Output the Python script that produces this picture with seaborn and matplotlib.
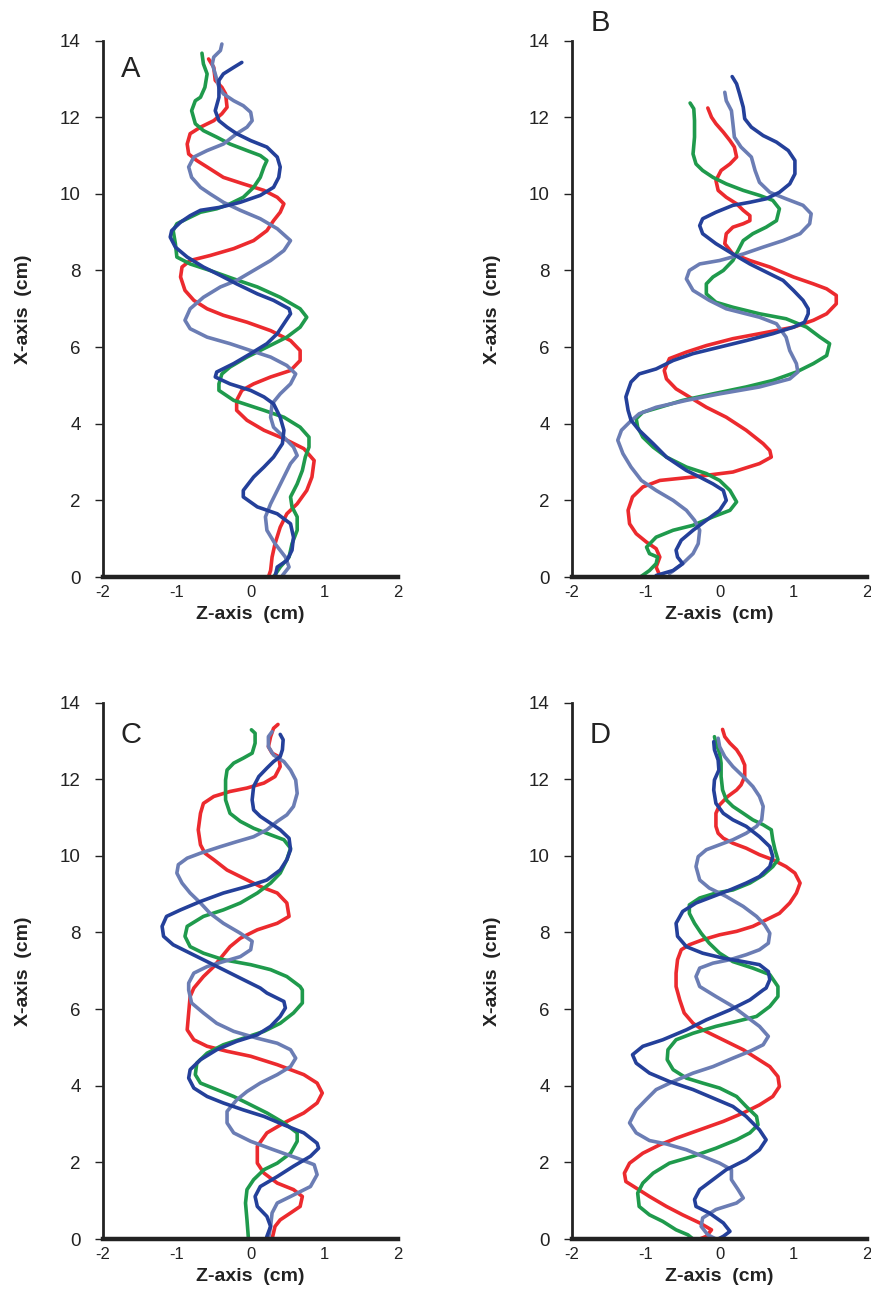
import matplotlib
matplotlib.use("Agg")
import matplotlib.pyplot as plt
import seaborn as sns
import pandas as pd

# ---- data: (Z, X) points along each track ----
# panel A
a_red_z = [-0.57, -0.50, -0.48, -0.39, -0.34, -0.32, -0.39, -0.50, -0.68, -0.82, -0.86, -0.84, -0.73, -0.59, -0.37, -0.10, 0.18, 0.36, 0.45, 0.40, 0.31, 0.22, 0.04, -0.23, -0.55, -0.82, -0.93, -0.95, -0.89, -0.77, -0.59, -0.37, -0.05, 0.27, 0.54, 0.67, 0.67, 0.54, 0.27, 0.04, -0.12, -0.19, -0.19, -0.05, 0.18, 0.45, 0.72, 0.86, 0.83, 0.76, 0.63, 0.49, 0.40, 0.33, 0.29, 0.27, 0.24]
a_red_x = [13.52, 13.30, 12.96, 12.78, 12.61, 12.26, 12.09, 11.91, 11.74, 11.57, 11.30, 11.04, 10.87, 10.70, 10.43, 10.26, 10.09, 9.91, 9.74, 9.52, 9.30, 9.04, 8.78, 8.57, 8.39, 8.26, 8.09, 7.83, 7.48, 7.22, 7.0, 6.83, 6.65, 6.43, 6.17, 5.91, 5.65, 5.39, 5.22, 5.04, 4.87, 4.61, 4.35, 4.09, 3.83, 3.61, 3.35, 3.04, 2.61, 2.26, 1.91, 1.65, 1.30, 0.87, 0.52, 0.17, 0.0]
a_green_z = [-0.66, -0.64, -0.59, -0.62, -0.68, -0.75, -0.80, -0.75, -0.64, -0.46, -0.28, -0.05, 0.13, 0.22, 0.18, 0.13, 0.04, -0.10, -0.28, -0.46, -0.68, -0.82, -1.0, -1.05, -1.02, -1.0, -0.82, -0.55, -0.23, 0.09, 0.40, 0.67, 0.76, 0.67, 0.49, 0.22, -0.05, -0.28, -0.39, -0.43, -0.43, -0.23, 0.18, 0.45, 0.67, 0.79, 0.79, 0.74, 0.70, 0.63, 0.54, 0.56, 0.63, 0.63, 0.56, 0.52, 0.40, 0.31]
a_green_x = [13.67, 13.39, 13.13, 12.78, 12.52, 12.43, 12.17, 11.83, 11.65, 11.48, 11.30, 11.13, 11.0, 10.87, 10.70, 10.43, 10.17, 9.91, 9.74, 9.61, 9.52, 9.39, 9.22, 9.04, 8.70, 8.35, 8.17, 8.0, 7.78, 7.57, 7.30, 7.0, 6.78, 6.52, 6.26, 6.0, 5.74, 5.48, 5.30, 5.04, 4.87, 4.61, 4.35, 4.17, 3.91, 3.65, 3.39, 3.13, 2.78, 2.43, 2.09, 1.83, 1.57, 1.22, 0.87, 0.52, 0.26, 0.0]
a_slate_z = [-0.39, -0.41, -0.50, -0.52, -0.48, -0.43, -0.37, -0.23, -0.10, 0.0, 0.02, -0.05, -0.19, -0.37, -0.59, -0.77, -0.84, -0.80, -0.68, -0.55, -0.37, -0.14, 0.13, 0.36, 0.54, 0.45, 0.27, 0.04, -0.19, -0.41, -0.64, -0.82, -0.89, -0.82, -0.59, -0.28, 0.0, 0.27, 0.49, 0.61, 0.54, 0.40, 0.29, 0.27, 0.31, 0.45, 0.58, 0.63, 0.54, 0.45, 0.36, 0.27, 0.20, 0.22, 0.33, 0.47, 0.52, 0.43]
a_slate_x = [13.91, 13.74, 13.57, 13.39, 13.13, 12.78, 12.61, 12.43, 12.30, 12.13, 11.91, 11.74, 11.57, 11.30, 11.13, 10.96, 10.70, 10.43, 10.17, 10.0, 9.78, 9.57, 9.35, 9.09, 8.78, 8.52, 8.26, 8.0, 7.74, 7.57, 7.30, 7.0, 6.70, 6.48, 6.26, 6.09, 5.91, 5.74, 5.52, 5.30, 5.04, 4.78, 4.52, 4.17, 3.91, 3.65, 3.39, 3.17, 2.96, 2.61, 2.26, 1.91, 1.57, 1.22, 0.87, 0.52, 0.26, 0.04]
a_blue_z = [-0.12, -0.23, -0.37, -0.43, -0.43, -0.48, -0.43, -0.32, -0.19, 0.0, 0.22, 0.36, 0.40, 0.38, 0.31, 0.13, -0.14, -0.41, -0.68, -0.82, -0.95, -1.07, -1.09, -1.02, -0.86, -0.64, -0.41, -0.19, 0.09, 0.31, 0.52, 0.54, 0.45, 0.36, 0.22, 0.0, -0.23, -0.46, -0.48, -0.28, 0.0, 0.18, 0.31, 0.40, 0.45, 0.43, 0.31, 0.18, 0.04, -0.10, -0.10, 0.09, 0.36, 0.54, 0.58, 0.56, 0.49, 0.36, 0.33]
a_blue_x = [13.43, 13.30, 13.13, 12.96, 12.52, 12.17, 11.91, 11.74, 11.57, 11.39, 11.22, 10.96, 10.70, 10.43, 10.17, 9.96, 9.78, 9.65, 9.57, 9.43, 9.26, 9.04, 8.87, 8.61, 8.35, 8.09, 7.87, 7.65, 7.39, 7.22, 7.0, 6.87, 6.61, 6.35, 6.09, 5.83, 5.57, 5.35, 5.22, 5.04, 4.87, 4.70, 4.52, 4.17, 3.83, 3.48, 3.13, 2.87, 2.61, 2.26, 2.09, 1.83, 1.65, 1.39, 1.04, 0.70, 0.43, 0.26, 0.0]

# panel B
b_red_z = [-0.16, -0.11, -0.05, 0.05, 0.14, 0.20, 0.23, 0.14, 0.02, -0.05, -0.02, 0.09, 0.23, 0.32, 0.41, 0.41, 0.32, 0.18, 0.09, 0.07, 0.18, 0.41, 0.68, 1.0, 1.27, 1.45, 1.58, 1.58, 1.45, 1.27, 1.0, 0.54, 0.18, -0.18, -0.45, -0.68, -0.75, -0.72, -0.59, -0.41, -0.18, 0.09, 0.36, 0.59, 0.68, 0.70, 0.54, 0.18, -0.36, -0.81, -1.04, -1.18, -1.24, -1.22, -1.13, -0.99, -0.86, -0.81, -0.86, -0.81]
b_red_x = [12.24, 12.0, 11.83, 11.61, 11.39, 11.22, 10.96, 10.78, 10.61, 10.35, 10.09, 9.91, 9.74, 9.57, 9.43, 9.30, 9.22, 9.13, 8.96, 8.70, 8.43, 8.26, 8.09, 7.83, 7.65, 7.52, 7.35, 7.13, 6.87, 6.70, 6.52, 6.35, 6.22, 6.04, 5.87, 5.70, 5.39, 5.17, 4.91, 4.70, 4.43, 4.17, 3.83, 3.48, 3.30, 3.13, 2.96, 2.74, 2.61, 2.52, 2.35, 2.09, 1.74, 1.39, 1.13, 0.91, 0.74, 0.52, 0.26, 0.04]
b_green_z = [-0.40, -0.35, -0.34, -0.34, -0.36, -0.32, -0.23, -0.09, 0.09, 0.32, 0.54, 0.72, 0.81, 0.77, 0.63, 0.45, 0.32, 0.25, 0.18, 0.05, -0.09, -0.18, -0.18, -0.05, 0.18, 0.54, 0.90, 1.18, 1.36, 1.49, 1.45, 1.27, 1.04, 0.72, 0.36, -0.09, -0.50, -0.81, -1.04, -1.13, -1.11, -1.04, -0.90, -0.72, -0.45, -0.18, 0.0, 0.14, 0.23, 0.14, -0.09, -0.36, -0.63, -0.86, -0.99, -0.95, -0.84, -0.86, -0.95, -1.06]
b_green_x = [12.37, 12.22, 11.91, 11.48, 11.04, 10.78, 10.61, 10.43, 10.26, 10.09, 9.96, 9.83, 9.61, 9.30, 9.13, 8.96, 8.78, 8.52, 8.26, 8.0, 7.83, 7.65, 7.39, 7.17, 7.04, 6.87, 6.74, 6.52, 6.26, 6.09, 5.78, 5.57, 5.35, 5.13, 4.96, 4.78, 4.61, 4.43, 4.30, 4.13, 3.91, 3.65, 3.39, 3.13, 2.87, 2.70, 2.52, 2.26, 1.96, 1.74, 1.57, 1.35, 1.22, 1.04, 0.78, 0.61, 0.52, 0.35, 0.17, 0.02]
b_slate_z = [0.07, 0.09, 0.16, 0.18, 0.20, 0.29, 0.43, 0.48, 0.54, 0.68, 0.90, 1.13, 1.24, 1.22, 1.09, 0.86, 0.59, 0.32, 0.0, -0.27, -0.41, -0.45, -0.36, -0.14, 0.09, 0.54, 0.77, 0.90, 0.95, 1.04, 1.06, 0.95, 0.54, 0.0, -0.45, -0.86, -1.09, -1.22, -1.33, -1.38, -1.31, -1.20, -1.06, -0.86, -0.63, -0.45, -0.34, -0.27, -0.29, -0.36, -0.50, -0.68]
b_slate_x = [12.65, 12.43, 12.17, 11.83, 11.48, 11.22, 10.96, 10.61, 10.30, 10.04, 9.87, 9.70, 9.48, 9.22, 8.96, 8.78, 8.61, 8.43, 8.26, 8.17, 8.0, 7.78, 7.48, 7.22, 7.0, 6.78, 6.61, 6.26, 5.91, 5.57, 5.35, 5.17, 4.96, 4.78, 4.61, 4.43, 4.26, 4.04, 3.83, 3.57, 3.22, 2.87, 2.52, 2.26, 2.0, 1.74, 1.48, 1.22, 0.87, 0.61, 0.35, 0.09]
b_blue_z = [0.17, 0.23, 0.27, 0.32, 0.34, 0.43, 0.59, 0.77, 0.93, 1.02, 1.02, 0.95, 0.81, 0.63, 0.41, 0.18, -0.05, -0.23, -0.27, -0.23, -0.05, 0.18, 0.41, 0.63, 0.86, 1.0, 1.13, 1.20, 1.20, 1.15, 1.0, 0.72, 0.36, 0.0, -0.36, -0.63, -0.86, -1.09, -1.20, -1.24, -1.27, -1.24, -1.20, -1.09, -0.90, -0.72, -0.45, -0.27, -0.09, 0.05, 0.09, 0.0, -0.18, -0.36, -0.52, -0.59, -0.57, -0.50, -0.63, -0.86]
b_blue_x = [13.06, 12.87, 12.61, 12.26, 11.96, 11.74, 11.52, 11.35, 11.13, 10.87, 10.52, 10.26, 10.04, 9.87, 9.78, 9.70, 9.52, 9.35, 9.17, 8.96, 8.70, 8.43, 8.17, 7.96, 7.74, 7.48, 7.22, 7.0, 6.87, 6.65, 6.52, 6.35, 6.17, 6.0, 5.83, 5.65, 5.43, 5.30, 5.09, 4.87, 4.70, 4.35, 4.09, 3.83, 3.48, 3.13, 2.78, 2.61, 2.43, 2.26, 2.0, 1.74, 1.48, 1.22, 0.96, 0.70, 0.52, 0.35, 0.17, 0.04]

# panel C
c_red_z = [0.37, 0.31, 0.27, 0.24, 0.29, 0.38, 0.40, 0.33, 0.18, -0.05, -0.28, -0.50, -0.64, -0.68, -0.71, -0.68, -0.62, -0.50, -0.32, -0.10, 0.13, 0.36, 0.49, 0.52, 0.36, 0.09, -0.14, -0.28, -0.37, -0.50, -0.64, -0.77, -0.82, -0.84, -0.86, -0.77, -0.59, -0.32, 0.0, 0.36, 0.72, 0.90, 0.97, 0.90, 0.72, 0.45, 0.22, 0.09, 0.09, 0.18, 0.36, 0.58, 0.70, 0.67, 0.54, 0.40, 0.33, 0.29]
c_red_x = [13.43, 13.33, 13.11, 12.85, 12.68, 12.59, 12.33, 12.07, 11.90, 11.77, 11.68, 11.55, 11.37, 11.11, 10.68, 10.29, 10.07, 9.90, 9.63, 9.42, 9.20, 9.03, 8.77, 8.42, 8.24, 8.07, 7.85, 7.63, 7.42, 7.11, 6.85, 6.55, 6.33, 5.90, 5.46, 5.20, 5.03, 4.90, 4.77, 4.55, 4.29, 4.07, 3.81, 3.55, 3.29, 3.03, 2.77, 2.42, 1.98, 1.72, 1.46, 1.29, 1.11, 0.85, 0.68, 0.50, 0.33, 0.0]
c_green_z = [0.01, 0.06, 0.06, 0.02, -0.10, -0.23, -0.32, -0.34, -0.34, -0.28, -0.14, 0.04, 0.27, 0.45, 0.54, 0.49, 0.40, 0.27, 0.09, -0.14, -0.37, -0.64, -0.86, -0.89, -0.82, -0.64, -0.37, 0.0, 0.27, 0.49, 0.67, 0.70, 0.70, 0.58, 0.40, 0.18, -0.10, -0.37, -0.59, -0.73, -0.75, -0.68, -0.46, -0.23, -0.05, 0.22, 0.45, 0.63, 0.63, 0.54, 0.36, 0.18, 0.04, -0.05, -0.07, -0.05, -0.03]
c_green_x = [13.29, 13.2, 12.94, 12.68, 12.55, 12.42, 12.24, 11.98, 11.46, 11.11, 10.90, 10.72, 10.55, 10.42, 10.20, 9.90, 9.55, 9.29, 9.03, 8.77, 8.59, 8.42, 8.16, 7.90, 7.63, 7.46, 7.29, 7.16, 7.03, 6.85, 6.59, 6.50, 6.16, 5.90, 5.63, 5.42, 5.24, 5.07, 4.85, 4.59, 4.29, 4.07, 3.90, 3.72, 3.55, 3.29, 3.03, 2.77, 2.55, 2.24, 1.98, 1.81, 1.55, 1.29, 0.94, 0.50, 0.0]
c_slate_z = [0.29, 0.24, 0.24, 0.31, 0.45, 0.54, 0.61, 0.63, 0.58, 0.49, 0.36, 0.22, 0.04, -0.19, -0.41, -0.68, -0.86, -0.98, -1.0, -0.93, -0.82, -0.68, -0.55, -0.37, -0.14, 0.02, 0.0, -0.14, -0.37, -0.59, -0.77, -0.84, -0.84, -0.80, -0.64, -0.46, -0.23, 0.09, 0.36, 0.54, 0.61, 0.54, 0.36, 0.13, -0.05, -0.19, -0.32, -0.32, -0.23, 0.0, 0.31, 0.63, 0.86, 0.90, 0.81, 0.54, 0.36, 0.29, 0.27, 0.24]
c_slate_x = [13.24, 13.11, 12.85, 12.63, 12.46, 12.24, 11.98, 11.63, 11.29, 11.07, 10.90, 10.68, 10.50, 10.37, 10.24, 10.07, 9.94, 9.77, 9.55, 9.29, 9.03, 8.77, 8.50, 8.24, 7.98, 7.77, 7.55, 7.37, 7.24, 7.11, 6.94, 6.68, 6.50, 6.16, 5.90, 5.63, 5.42, 5.24, 5.11, 4.94, 4.72, 4.50, 4.29, 4.07, 3.85, 3.63, 3.33, 3.03, 2.77, 2.55, 2.33, 2.11, 1.94, 1.68, 1.37, 1.11, 0.94, 0.68, 0.33, 0.0]
c_blue_z = [0.40, 0.44, 0.43, 0.40, 0.31, 0.22, 0.11, 0.04, 0.02, 0.04, 0.13, 0.27, 0.40, 0.52, 0.54, 0.49, 0.40, 0.22, -0.05, -0.37, -0.68, -0.95, -1.14, -1.20, -1.18, -1.05, -0.82, -0.59, -0.37, -0.10, 0.13, 0.22, 0.45, 0.47, 0.40, 0.27, 0.09, -0.19, -0.46, -0.68, -0.82, -0.84, -0.77, -0.59, -0.37, -0.10, 0.18, 0.45, 0.72, 0.90, 0.92, 0.81, 0.58, 0.36, 0.13, 0.06, 0.09, 0.22, 0.27, 0.22, 0.21]
c_blue_x = [13.17, 13.03, 12.77, 12.59, 12.46, 12.29, 12.07, 11.81, 11.46, 11.20, 11.03, 10.85, 10.68, 10.46, 10.16, 9.90, 9.63, 9.37, 9.20, 9.03, 8.81, 8.59, 8.42, 8.16, 7.90, 7.68, 7.46, 7.24, 7.03, 6.77, 6.55, 6.42, 6.20, 6.03, 5.81, 5.55, 5.33, 5.16, 4.94, 4.68, 4.42, 4.20, 3.94, 3.72, 3.55, 3.37, 3.20, 2.98, 2.77, 2.50, 2.37, 2.16, 1.90, 1.63, 1.37, 1.11, 0.85, 0.59, 0.33, 0.07, 0.0]

# panel D
d_red_z = [0.04, 0.07, 0.14, 0.23, 0.29, 0.34, 0.34, 0.29, 0.23, 0.11, 0.0, -0.05, -0.05, -0.02, 0.05, 0.18, 0.36, 0.54, 0.72, 0.90, 1.02, 1.09, 1.04, 0.95, 0.81, 0.63, 0.45, 0.23, 0.0, -0.23, -0.41, -0.52, -0.57, -0.59, -0.59, -0.54, -0.48, -0.36, -0.23, -0.05, 0.14, 0.32, 0.50, 0.68, 0.79, 0.81, 0.72, 0.54, 0.32, 0.05, -0.27, -0.59, -0.81, -1.04, -1.22, -1.29, -1.27, -1.13, -0.95, -0.72, -0.50, -0.27, -0.11, -0.18, -0.27]
d_red_x = [13.30, 13.11, 12.94, 12.77, 12.59, 12.37, 12.07, 11.85, 11.72, 11.55, 11.33, 11.11, 10.77, 10.59, 10.46, 10.33, 10.20, 10.03, 9.90, 9.72, 9.55, 9.29, 9.03, 8.77, 8.50, 8.33, 8.16, 8.03, 7.94, 7.81, 7.68, 7.55, 7.29, 6.94, 6.59, 6.24, 5.90, 5.63, 5.46, 5.29, 5.11, 4.94, 4.72, 4.50, 4.24, 3.98, 3.72, 3.50, 3.29, 3.07, 2.85, 2.63, 2.46, 2.24, 1.98, 1.72, 1.50, 1.33, 1.11, 0.85, 0.63, 0.42, 0.24, 0.07, 0.0]
d_green_z = [-0.07, -0.05, 0.0, 0.02, 0.02, 0.04, 0.09, 0.18, 0.32, 0.45, 0.59, 0.70, 0.72, 0.75, 0.79, 0.72, 0.59, 0.41, 0.18, -0.05, -0.27, -0.41, -0.41, -0.34, -0.25, -0.14, 0.0, 0.18, 0.45, 0.68, 0.79, 0.79, 0.68, 0.50, 0.23, -0.05, -0.36, -0.59, -0.70, -0.71, -0.63, -0.45, -0.23, 0.0, 0.23, 0.36, 0.50, 0.52, 0.41, 0.23, -0.05, -0.36, -0.68, -0.90, -1.04, -1.11, -1.09, -0.95, -0.77, -0.59, -0.43, -0.36]
d_green_x = [13.11, 12.94, 12.68, 12.42, 12.07, 11.72, 11.46, 11.29, 11.11, 10.94, 10.81, 10.68, 10.42, 10.16, 9.90, 9.72, 9.50, 9.29, 9.11, 9.03, 8.90, 8.72, 8.50, 8.24, 7.98, 7.72, 7.46, 7.24, 7.07, 6.90, 6.59, 6.33, 6.07, 5.81, 5.68, 5.55, 5.37, 5.20, 4.94, 4.68, 4.42, 4.20, 4.07, 3.94, 3.72, 3.46, 3.20, 2.98, 2.77, 2.59, 2.37, 2.16, 1.98, 1.72, 1.46, 1.20, 0.85, 0.63, 0.46, 0.24, 0.11, 0.0]
d_slate_z = [-0.02, 0.0, 0.07, 0.18, 0.32, 0.45, 0.54, 0.59, 0.57, 0.50, 0.36, 0.18, 0.0, -0.18, -0.29, -0.32, -0.27, -0.14, 0.09, 0.32, 0.50, 0.61, 0.68, 0.66, 0.54, 0.36, 0.14, -0.09, -0.27, -0.32, -0.27, -0.05, 0.18, 0.36, 0.54, 0.66, 0.59, 0.41, 0.18, -0.09, -0.36, -0.63, -0.86, -1.0, -1.13, -1.22, -1.13, -0.95, -0.72, -0.45, -0.23, 0.0, 0.16, 0.16, 0.25, 0.32, 0.23, -0.05, -0.23, -0.25, -0.16, -0.05]
d_slate_x = [13.07, 12.85, 12.59, 12.33, 12.07, 11.81, 11.55, 11.29, 10.94, 10.77, 10.59, 10.42, 10.29, 10.16, 9.98, 9.72, 9.37, 9.16, 8.94, 8.68, 8.42, 8.20, 7.98, 7.72, 7.55, 7.42, 7.29, 7.20, 7.07, 6.85, 6.59, 6.33, 6.07, 5.81, 5.55, 5.29, 5.07, 4.90, 4.72, 4.50, 4.33, 4.11, 3.90, 3.63, 3.37, 3.03, 2.77, 2.57, 2.48, 2.33, 2.16, 1.98, 1.81, 1.55, 1.29, 1.07, 0.94, 0.77, 0.55, 0.33, 0.11, 0.0]
d_blue_z = [-0.08, -0.07, -0.02, -0.01, -0.07, -0.08, -0.05, 0.05, 0.18, 0.36, 0.54, 0.68, 0.72, 0.68, 0.54, 0.36, 0.14, -0.09, -0.32, -0.50, -0.59, -0.57, -0.45, -0.23, 0.05, 0.32, 0.54, 0.66, 0.68, 0.63, 0.59, 0.41, 0.14, -0.18, -0.45, -0.77, -1.04, -1.18, -1.13, -0.95, -0.68, -0.36, -0.09, 0.18, 0.36, 0.54, 0.63, 0.54, 0.36, 0.09, -0.09, -0.27, -0.34, -0.32, -0.14, 0.05, 0.14, 0.05, -0.02]
d_blue_x = [12.98, 12.77, 12.50, 12.24, 11.98, 11.72, 11.37, 11.11, 10.94, 10.77, 10.50, 10.24, 9.98, 9.72, 9.46, 9.29, 9.11, 8.94, 8.77, 8.55, 8.24, 7.90, 7.63, 7.46, 7.33, 7.24, 7.16, 6.98, 6.77, 6.55, 6.50, 6.24, 5.98, 5.72, 5.46, 5.20, 5.03, 4.81, 4.59, 4.33, 4.11, 3.90, 3.68, 3.46, 3.20, 2.85, 2.59, 2.33, 2.07, 1.81, 1.55, 1.29, 1.03, 0.85, 0.68, 0.42, 0.20, 0.07, 0.0]

panels = {
    "A": {"red": (a_red_z, a_red_x), "green": (a_green_z, a_green_x),
          "slate": (a_slate_z, a_slate_x), "blue": (a_blue_z, a_blue_x)},
    "B": {"red": (b_red_z, b_red_x), "green": (b_green_z, b_green_x),
          "slate": (b_slate_z, b_slate_x), "blue": (b_blue_z, b_blue_x)},
    "C": {"red": (c_red_z, c_red_x), "green": (c_green_z, c_green_x),
          "slate": (c_slate_z, c_slate_x), "blue": (c_blue_z, c_blue_x)},
    "D": {"red": (d_red_z, d_red_x), "green": (d_green_z, d_green_x),
          "slate": (d_slate_z, d_slate_x), "blue": (d_blue_z, d_blue_x)},
}

colores = {"red": "#ec2a2e", "green": "#1f9a4c", "slate": "#6b7db4", "blue": "#24409a"}

sns.set_style("white")
plt.rcParams["font.family"] = ["Liberation Sans", "DejaVu Sans"]

fig = plt.figure(figsize=(8.71, 12.92), dpi=100)

# axes boxes in figure fraction
w, h = 0.339, 0.4152
posiciones = {"A": (0.1183, 0.5534), "B": (0.6567, 0.5534),
              "C": (0.1183, 0.0410), "D": (0.6567, 0.0410)}
letra_y = {"A": 13.25, "B": 14.45, "C": 13.15, "D": 13.15}

for nombre, tracks in panels.items():
    x0, y0 = posiciones[nombre]
    ax = fig.add_axes([x0, y0, w, h])
    filas = []
    for cor, (zs, xs) in tracks.items():
        for i, (z, x) in enumerate(zip(zs, xs)):
            filas.append({"z": z, "x": x, "track": cor, "ordem": i})
    df = pd.DataFrame(filas)
    sns.lineplot(data=df, x="z", y="x", hue="track", palette=colores,
                 sort=False, estimator=None, legend=False, linewidth=2.6, ax=ax,
                 solid_capstyle="round", solid_joinstyle="round")

    ax.set_xlim(-2, 2)
    ax.set_ylim(0, 14)
    ax.set_xticks([-2, -1, 0, 1, 2])
    ax.set_yticks(range(0, 15, 2))
    ax.set_xticklabels(["-2", "-1", "0", "1", "2"], fontsize=12)
    ax.set_yticklabels([str(v) for v in range(0, 15, 2)], fontsize=13.5)
    ax.tick_params(axis="y", direction="out", length=6, width=1.0, pad=10,
                   colors="#222222", left=True)
    ax.tick_params(axis="x", length=0, pad=6, colors="#222222")
    for lado in ["top", "right"]:
        ax.spines[lado].set_visible(False)
    ax.spines["left"].set_linewidth(2.0)
    ax.spines["left"].set_color("#222222")
    ax.spines["bottom"].set_linewidth(3.2)
    ax.spines["bottom"].set_color("#222222")
    ax.set_xlabel("Z-axis  (cm)", fontsize=14, fontweight="bold", labelpad=4, color="#222222")
    ax.set_ylabel("X-axis  (cm)", fontsize=14, fontweight="bold", labelpad=20, color="#222222")
    ax.text(-1.62, letra_y[nombre], nombre, fontsize=21, ha="center", va="center",
            color="#222222", clip_on=False)
    ax.set_facecolor("none")

fig.savefig("out.png", dpi=100)
